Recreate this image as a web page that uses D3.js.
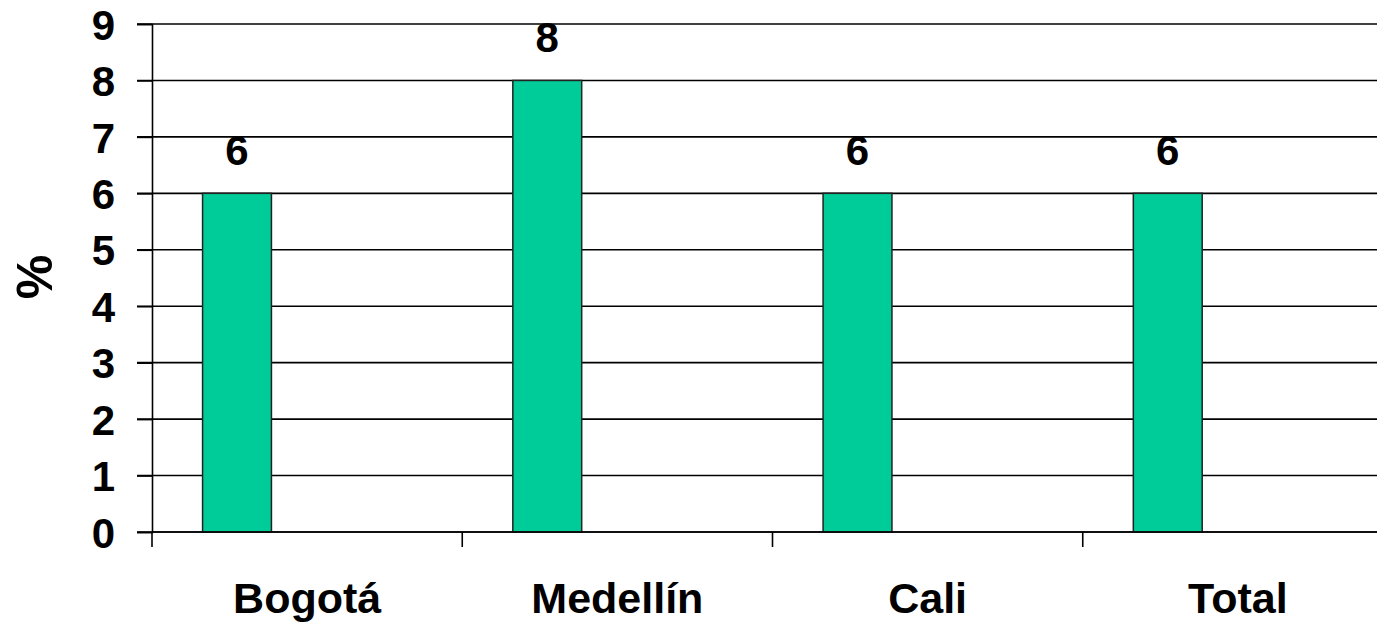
<!DOCTYPE html>
<html>
<head>
<meta charset="utf-8">
<script src="https://cdn.jsdelivr.net/npm/d3@7"></script>
<style>
  body { margin: 0; background: #fff; }
  svg { display: block; font-family: "Liberation Sans", Arial, sans-serif; font-weight: bold; }
</style>
</head>
<body>
<div id="chart"></div>
<script>
// values
const cities = ['Bogotá', 'Medellín', 'Cali', 'Total'];
const values = [6, 8, 6, 6];
const y_ticks = [0, 1, 2, 3, 4, 5, 6, 7, 8, 9];

const width = 1377;
const height = 622;
const margins = {top: 24, bottom: 90, left: 152, right: -16};

const svg = d3.select('#chart')
    .append('svg')
    .attr('width', width)
    .attr('height', height);

const x_scale = d3.scaleBand()
    .domain(cities)
    .range([margins.left, width - margins.right]);

const y_scale = d3.scaleLinear()
    .domain([0, 9])
    .range([height - margins.bottom, margins.top]);

// bar sits in left part of each band (like an Excel group with empty series)
const bar_offset = x_scale.bandwidth() * 0.163;
const bar_width = x_scale.bandwidth() * 0.222;

// horizontal gridlines
svg.append('g')
    .selectAll('line')
    .data(y_ticks)
    .enter()
    .append('line')
    .attr('x1', margins.left - 15)
    .attr('x2', width)
    .attr('y1', d => y_scale(d))
    .attr('y2', d => y_scale(d))
    .attr('stroke', '#000')
    .attr('stroke-width', 1.6);

// bars
svg.append('g')
    .selectAll('rect')
    .data(values)
    .enter()
    .append('rect')
    .attr('x', (d, i) => x_scale(cities[i]) + bar_offset)
    .attr('y', d => y_scale(d))
    .attr('width', bar_width)
    .attr('height', d => y_scale(0) - y_scale(d))
    .attr('fill', '#00cc99')
    .attr('stroke', '#222')
    .attr('stroke-width', 1.5);

// value labels
svg.append('g')
    .selectAll('text')
    .data(values)
    .enter()
    .append('text')
    .attr('x', (d, i) => x_scale(cities[i]) + bar_offset + bar_width / 2)
    .attr('y', d => y_scale(d) - 28)
    .attr('text-anchor', 'middle')
    .attr('font-size', '42px')
    .attr('fill', '#000')
    .text(d => d);

// y axis
const y_axis = d3.axisLeft(y_scale)
    .tickValues(y_ticks)
    .tickSize(15)
    .tickPadding(22)
    .tickFormat(d3.format('d'));

svg.append('g')
    .attr('transform', 'translate(' + margins.left + ',0)')
    .call(y_axis)
    .call(g => g.selectAll('line, path').attr('stroke', '#000').attr('stroke-width', 1.6))
    .call(g => g.selectAll('text').attr('font-size', '42px').attr('fill', '#000').attr('dy', '0.36em'));

// x axis: ticks at band edges
const x_edges = cities.map(c => x_scale(c));

const x_g = svg.append('g');
x_g.append('line')
    .attr('x1', margins.left)
    .attr('x2', width)
    .attr('y1', y_scale(0))
    .attr('y2', y_scale(0))
    .attr('stroke', '#000')
    .attr('stroke-width', 1.6);

x_g.selectAll('.tick')
    .data(x_edges)
    .enter()
    .append('line')
    .attr('x1', d => d)
    .attr('x2', d => d)
    .attr('y1', y_scale(0))
    .attr('y2', y_scale(0) + 15)
    .attr('stroke', '#000')
    .attr('stroke-width', 1.6);

x_g.selectAll('text')
    .data(cities)
    .enter()
    .append('text')
    .attr('x', d => x_scale(d) + x_scale.bandwidth() / 2)
    .attr('y', 613)
    .attr('text-anchor', 'middle')
    .attr('font-size', '43px')
    .attr('fill', '#000')
    .text(d => d);

// y axis title
svg.append('text')
    .attr('transform', 'translate(52,277) rotate(-90)')
    .attr('text-anchor', 'middle')
    .attr('font-size', '50px')
    .attr('fill', '#000')
    .text('%');
</script>
</body>
</html>
